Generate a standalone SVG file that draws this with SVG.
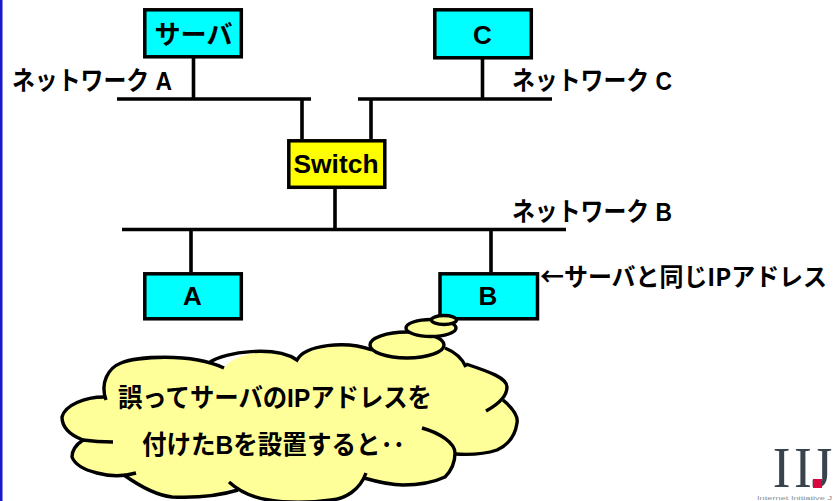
<svg xmlns="http://www.w3.org/2000/svg" width="833" height="501" viewBox="0 0 833 501">
<style>
text{font-family:"Liberation Sans","Noto Sans CJK JP",sans-serif;font-weight:700;fill:#000;font-size:26px}
.c{text-anchor:middle}
.n{stroke:#000;stroke-width:3.500}
.l{stroke:#000;stroke-width:3.600;fill:none}
.cl{stroke:#000;stroke-width:3.400;fill:none;stroke-linecap:butt}
.e{fill:#ffff99;stroke:#000;stroke-width:3.400}
.f{fill:#ffff99}
</style>
<rect width="833" height="501" fill="#fff"/>
<rect x="0" y="0" width="2.500" height="501" fill="#1a1acc"/>
<g id="connectors">
<path class="l" d="M117 99H311M358 99H552M122 229.500H566M193.500 57V99M482.500 58V99M302 99V139M371 99V139M335 188V230M191 229V272M491 229V272"/>
</g>
<g id="node-server"><rect class="n" x="144.800" y="9.800" width="96.500" height="47" fill="#00ffff"/><text class="c" x="193.500" y="44" textLength="78" lengthAdjust="spacingAndGlyphs">サーバ</text></g>
<g id="node-c"><rect class="n" x="434.800" y="9.800" width="96.500" height="48" fill="#00ffff"/><text class="c" x="482.500" y="44">C</text></g>
<g id="node-switch"><rect class="n" x="288.800" y="140.800" width="96" height="46.500" fill="#ffff00"/><text class="c" x="336" y="173" textLength="85" lengthAdjust="spacingAndGlyphs">Switch</text></g>
<g id="node-a"><rect class="n" x="144.800" y="273.800" width="96.500" height="45" fill="#00ffff"/><text class="c" x="192.500" y="305">A</text></g>
<g id="node-b"><rect class="n" x="440" y="273.800" width="97.500" height="45" fill="#00ffff"/><text class="c" x="488" y="305">B</text></g>
<g id="label-a"><text x="12" y="90" textLength="160" lengthAdjust="spacingAndGlyphs">ネットワーク A</text></g>
<g id="label-c"><text x="512" y="90" textLength="160" lengthAdjust="spacingAndGlyphs">ネットワーク C</text></g>
<g id="label-b"><text x="512" y="221" textLength="160" lengthAdjust="spacingAndGlyphs">ネットワーク B</text></g>
<g id="label-same"><text x="540" y="286" style="font-family:'Noto Sans CJK JP','Liberation Sans',sans-serif;font-size:24.500px" textLength="287" lengthAdjust="spacingAndGlyphs">←サーバと同じIPアドレス</text></g>
<g id="cloud">
<path class="f" d="M106 400C100 383 108 368 121 363C135 357 190 352 224 368C235 352 275 345 297 360C305 345 345 340 372 350L445 348C455 352 462 358 466 366C490 372 507 378 507 387C507 392 504 397 503 400C515 410 518 418 517 423C515 437 508 445 497 450C485 454 470 455 455 454C455 462 452 470 445 477C430 484 415 485 403 485C390 485 378 482 366 477C360 490 345 499 331 500C310 503 285 503 269 500C255 498 240 490 235 487C215 497 195 498 172 497C155 495 138 485 128 476C115 476 105 475 97 473C85 470 75 465 72 457C72 450 77 444 83 440C70 435 62 427 62 417C65 405 85 397 103 397Z"/>
<path class="cl" d="M106 400C100 383 108 368 121 363C135 357 190 352 224 368"/>
<path class="cl" d="M210 362C225 352 275 345 297 360C305 345 345 340 372 350"/>
<path class="cl" d="M445 348C455 352 462 358 466 367"/>
<path class="cl" d="M466 364C490 372 507 378 507 387C507 397 497 405 486 411"/>
<path class="cl" d="M503 400C515 410 518 418 517 423C515 437 508 445 497 450C485 454 470 455 455 454"/>
<path class="cl" d="M422 428C440 433 455 443 455 453C455 462 452 470 445 477C430 484 415 485 403 485C390 485 378 482 364 478"/>
<path class="cl" d="M366 473C360 490 345 499 331 500C310 503 285 503 269 500C255 498 240 492 229 482"/>
<path class="cl" d="M238 490C215 497 195 498 172 497C155 495 138 485 124 475"/>
<path class="cl" d="M136 473C122 477 108 476 97 473C85 470 75 465 72 457C72 450 77 444 83 440C90 441 100 442 113 442"/>
<path class="cl" d="M83 440C70 435 62 427 62 417C65 405 85 397 104 397"/>
<ellipse class="e" cx="407" cy="345" rx="37" ry="13"/>
<ellipse class="e" cx="431" cy="328" rx="25" ry="8.500"/>
<ellipse class="e" cx="444" cy="320" rx="12.500" ry="4.500"/>
<text x="118" y="407" textLength="314" lengthAdjust="spacingAndGlyphs">誤ってサーバのIPアドレスを</text>
<text x="142" y="454" textLength="263" lengthAdjust="spacingAndGlyphs">付けたBを設置すると･･</text>
</g>
<g id="logo">
<text transform="matrix(.92 0 0 1 0 0)" x="840 863 882" y="487" style="font-family:'Liberation Serif',serif;font-size:58px;font-weight:400;fill:#38434d">IIJ</text>
<rect x="813" y="479" width="9" height="9" fill="#d9063f"/>
<text x="757" y="500" style="font-size:5px;font-weight:400;fill:#8a8f94" textLength="75" lengthAdjust="spacingAndGlyphs">Internet Initiative J</text>
</g>
</svg>
